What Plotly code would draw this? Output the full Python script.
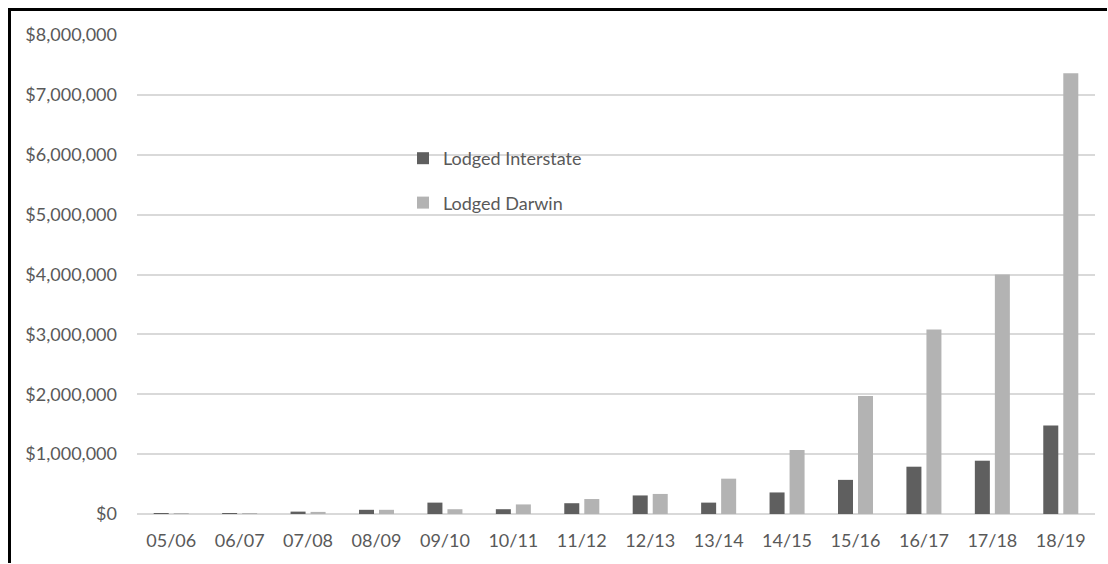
import plotly.graph_objects as go

categories = ["05/06", "06/07", "07/08", "08/09", "09/10", "10/11", "11/12",
              "12/13", "13/14", "14/15", "15/16", "16/17", "17/18", "18/19"]
lodged_interstate = [10000, 8000, 40000, 70000, 190000, 80000, 180000,
                     310000, 190000, 360000, 570000, 790000, 890000, 1480000]
lodged_darwin = [5000, 5000, 35000, 70000, 80000, 160000, 250000,
                 335000, 590000, 1070000, 1970000, 3080000, 4000000, 7360000]

W, H = 1108, 564
L, R, T, B = 137, 13, 35, 50
pw, ph = W - L - R, H - T - B

def px_x(x):
    return (x - L) / pw

def px_y(y):
    return 1 - (y - T) / ph

fig = go.Figure()
fig.add_trace(go.Bar(x=categories, y=lodged_interstate, name="Lodged Interstate",
                     marker=dict(color="#5f5f5f", line=dict(width=0)),
                     legendgroup="a"))
fig.add_trace(go.Bar(x=categories, y=lodged_darwin, name="Lodged Darwin",
                     marker=dict(color="#b3b3b3", line=dict(width=0)),
                     legendgroup="b"))

font_fam = "Lato, 'Open Sans', sans-serif"
fig.update_layout(
    width=W, height=H,
    margin=dict(l=L, r=R, t=T, b=B, pad=0),
    paper_bgcolor="white", plot_bgcolor="white",
    barmode="group", bargap=0.415, bargroupgap=0.25,
    font=dict(family=font_fam, size=18, color="#595959"),
    showlegend=True,
    legend=dict(x=px_x(403), y=px_y(140), xanchor="left", yanchor="top",
                bgcolor="rgba(0,0,0,0)", tracegroupgap=18,
                font=dict(size=18, color="#595959"), itemwidth=30),
    xaxis=dict(showgrid=False, showline=False, ticks="", zeroline=False,
               ticklabelstandoff=14, tickfont=dict(size=18, color="#595959")),
    yaxis=dict(range=[0, 8000000], dtick=1000000, tickprefix="$", tickformat=",",
               showgrid=True, gridcolor="#d9d9d9", gridwidth=1.5,
               zeroline=True, zerolinecolor="#d9d9d9", zerolinewidth=1.5,
               showline=False, ticks="", ticklabelstandoff=19,
               tickfont=dict(size=18, color="#595959")),
    shapes=[
        dict(type="line", xref="paper", yref="paper",
             x0=px_x(8), x1=px_x(W - 1), y0=px_y(9.5), y1=px_y(9.5),
             line=dict(color="black", width=3), layer="above"),
        dict(type="line", xref="paper", yref="paper",
             x0=px_x(9.5), x1=px_x(9.5), y0=px_y(8), y1=px_y(H - 1),
             line=dict(color="black", width=3), layer="above"),
    ],
)

fig.write_html(
    "out.html",
    config={"displayModeBar": False},
    post_script=("document.body.style.margin='0';"
                 "document.body.style.overflow='hidden';"
                 "document.documentElement.style.overflow='hidden';"),
)
